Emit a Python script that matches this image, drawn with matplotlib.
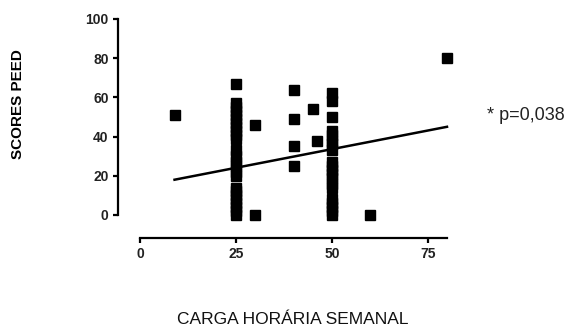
import matplotlib
matplotlib.use('Agg')
import matplotlib.pyplot as plt

plt.rcParams['font.family'] = ['Liberation Sans', 'DejaVu Sans']

# carga horária semanal x scores PEED
horas = ([9] +
         [25] * 25 +
         [30, 30] +
         [40, 40, 40, 40] +
         [45, 46] +
         [50] * 20 +
         [60, 80])
scores = ([51] +
          [0, 2, 4, 6, 8, 10, 12, 14, 20, 22, 25, 27, 30, 33,
           39, 41, 43, 45, 47, 49, 51, 53, 55, 57, 67] +
          [46, 0] +
          [64, 49, 35, 25] +
          [54, 38] +
          [0, 2, 4, 6, 8, 14, 16, 19, 21, 23, 25, 27, 33, 36, 38, 41, 43, 50, 58, 62] +
          [0, 80])

# reta de regressão
reta_x = [9, 80]
reta_y = [18, 45]

xticks = [0, 25, 50, 75]
yticks = [0, 20, 40, 60, 80, 100]

fig = plt.figure(figsize=(5.79, 3.27), dpi=100)
ax = fig.add_axes([140 / 579, 1 - 215 / 327, 307 / 579, 196 / 327])

ax.plot(horas, scores, linestyle='none', marker='s', markersize=7.3,
        color='black', clip_on=False)
ax.plot(reta_x, reta_y, color='black', linewidth=1.8, clip_on=False)

ax.set_xlim(0, 80)
ax.set_ylim(0, 100)
ax.set_xticks(xticks)
ax.set_yticks(yticks)

for lado in ['top', 'right']:
    ax.spines[lado].set_visible(False)
ax.spines['left'].set_position(('outward', 16))
ax.spines['bottom'].set_position(('outward', 16.5))
ax.spines['left'].set_bounds(0, 100)
ax.spines['bottom'].set_bounds(0, 80)
ax.spines['left'].set_linewidth(1.6)
ax.spines['bottom'].set_linewidth(1.6)
ax.tick_params(direction='out', length=3.6, width=1.6, labelsize=10, pad=3)
for lbl in ax.get_xticklabels() + ax.get_yticklabels():
    lbl.set_fontweight('bold')
    lbl.set_color('#222222')

fig.text(18 / 579, 1 - 104 / 327, 'SCORES PEED', rotation=90, fontsize=11,
         fontweight='bold', ha='center', va='center')
fig.text(293 / 579, 1 - 319 / 327, 'CARGA HORÁRIA SEMANAL', fontsize=12.5,
         ha='center', va='center', color='#111111')
fig.text(487 / 579, 1 - 115 / 327, '* p=0,038', fontsize=13,
         ha='left', va='center', color='#222222')

fig.savefig('out.png', dpi=100)
plt.close(fig)
